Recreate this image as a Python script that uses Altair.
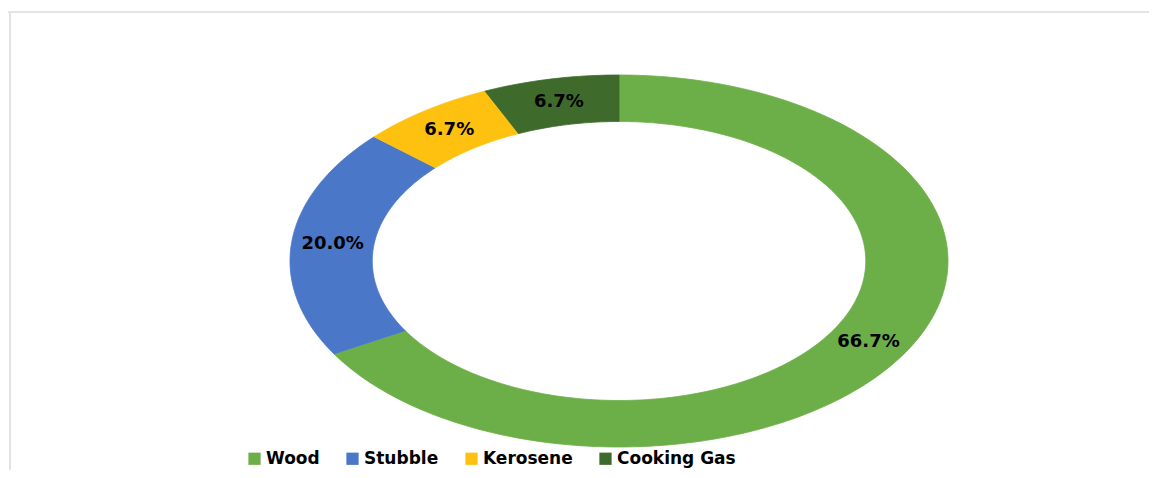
import altair as alt
import numpy as np
import pandas as pd

categories = ["Wood", "Stubble", "Kerosene", "Cooking Gas"]
shares = [66.7, 20.0, 6.7, 6.7]
labels = ["66.7%", "20.0%", "6.7%", "6.7%"]
colors = ["#6cae48", "#4a77c8", "#fec10f", "#3e6b2b"]

OUTER = 1.0
INNER = 0.75
total = sum(shares)

rows = []
lab_rows = []
start = 0.0
for cat, v, lab in zip(categories, shares, labels):
    a0 = start / total * 2 * np.pi
    a1 = (start + v) / total * 2 * np.pi
    n = max(int(np.degrees(a1 - a0)), 2) + 1
    arc = np.linspace(a0, a1, n)
    k = 0
    for a in arc:
        rows.append({"cat": cat, "i": k, "x": OUTER * np.sin(a), "y": OUTER * np.cos(a)})
        k += 1
    for a in arc[::-1]:
        rows.append({"cat": cat, "i": k, "x": INNER * np.sin(a), "y": INNER * np.cos(a)})
        k += 1
    am = (a0 + a1) / 2
    rm = (OUTER + INNER) / 2
    lab_rows.append({"cat": cat, "label": lab, "x": rm * np.sin(am), "y": rm * np.cos(am)})
    start += v

poly = pd.DataFrame(rows)
labdf = pd.DataFrame(lab_rows)

W, H = 1141, 462
CX, CY = 611, 253   # donut centre inside the view
RX, RY = 329, 186   # outer radii in pixels
xdom = [-CX / RX, (W - CX) / RX]
ydom = [-(H - CY) / RY, CY / RY]

xs = alt.Scale(domain=xdom, nice=False, zero=False)
ys = alt.Scale(domain=ydom, nice=False, zero=False)
cscale = alt.Scale(domain=categories, range=colors)

rings = alt.Chart(poly).mark_line(filled=True, strokeWidth=0.8).encode(
    x=alt.X("x:Q", scale=xs, axis=None),
    y=alt.Y("y:Q", scale=ys, axis=None),
    color=alt.Color(
        "cat:N",
        scale=cscale,
        sort=categories,
        title=None,
        legend=alt.Legend(
            orient="none",
            direction="horizontal",
            legendX=238,
            legendY=442,
            symbolType="square",
            symbolSize=150,
            symbolStrokeWidth=0,
            labelFont="DejaVu Sans",
            labelFontWeight="bold",
            labelFontSize=17,
            labelColor="#000000",
            labelOffset=3,
            columnPadding=24,
            padding=0,
        ),
    ),
    stroke=alt.Stroke("cat:N", scale=cscale, legend=None),
    detail="cat:N",
    order=alt.Order("i:Q"),
)

text = alt.Chart(labdf).mark_text(
    font="DejaVu Sans", fontWeight="bold", fontSize=18, color="#000000",
    align="center", baseline="middle",
).encode(
    x=alt.X("x:Q", scale=xs, axis=None),
    y=alt.Y("y:Q", scale=ys, axis=None),
    text="label:N",
)

top_rule = alt.Chart(labdf).mark_rule(color="#e3e3e3", strokeWidth=1.2).encode(
    x=alt.value(-8), x2=alt.value(W + 8), y=alt.value(4)
)
left_rule = alt.Chart(labdf).mark_rule(color="#e3e3e3", strokeWidth=1.2).encode(
    x=alt.value(2), y=alt.value(4), y2=alt.value(H + 8)
)

chart = alt.layer(top_rule, left_rule, rings, text).properties(
    width=W, height=H, padding=0, autosize=alt.AutoSizeParams(type="none")
).configure_view(strokeWidth=0)

chart.save("out.html", embed_options={"renderer": "svg", "actions": False})
